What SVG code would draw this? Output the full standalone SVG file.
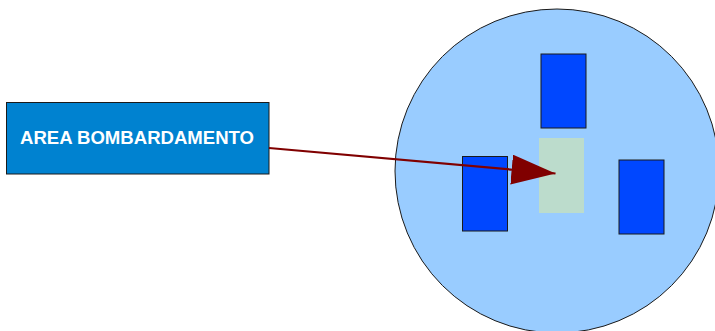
<svg xmlns="http://www.w3.org/2000/svg" width="715" height="331" viewBox="0 0 715 331">
<style>
.blk{fill:#0047ff;stroke:#1a1a1a;stroke-width:1}
.lbl{font-family:"Liberation Sans",Arial,sans-serif;font-weight:bold;font-size:18px;fill:#ffffff}
</style>
<defs>
<marker id="ah" markerUnits="userSpaceOnUse" markerWidth="46" markerHeight="30" refX="44" refY="15" orient="auto" viewBox="0 0 46 30">
<path d="M0,0 L44,15 L0,30 Z" fill="#800000"/>
</marker>
</defs>
<rect width="715" height="331" fill="#ffffff"/>
<g id="circle"><circle cx="557" cy="171" r="162" fill="#99ccff" stroke="#1a1a1a" stroke-width="1"/></g>
<g id="top"><rect class="blk" x="541" y="54" width="45" height="74"/></g>
<g id="left"><rect class="blk" x="462.5" y="156.5" width="45" height="74.5"/></g>
<g id="right"><rect class="blk" x="619" y="160" width="45" height="74"/></g>
<g id="target"><rect x="539" y="138" width="45" height="75" fill="#bcdccc"/></g>
<g id="label">
<rect x="6.5" y="102.5" width="262.5" height="71.5" fill="#0082d0" stroke="#1a1a1a" stroke-width="1"/>
<text class="lbl" x="137" y="144" text-anchor="middle" textLength="234" lengthAdjust="spacingAndGlyphs">AREA BOMBARDAMENTO</text>
</g>
<g id="connectors">
<line x1="269" y1="148" x2="555.5" y2="173.5" stroke="#800000" stroke-width="2.2" marker-end="url(#ah)"/>
</g>
</svg>
